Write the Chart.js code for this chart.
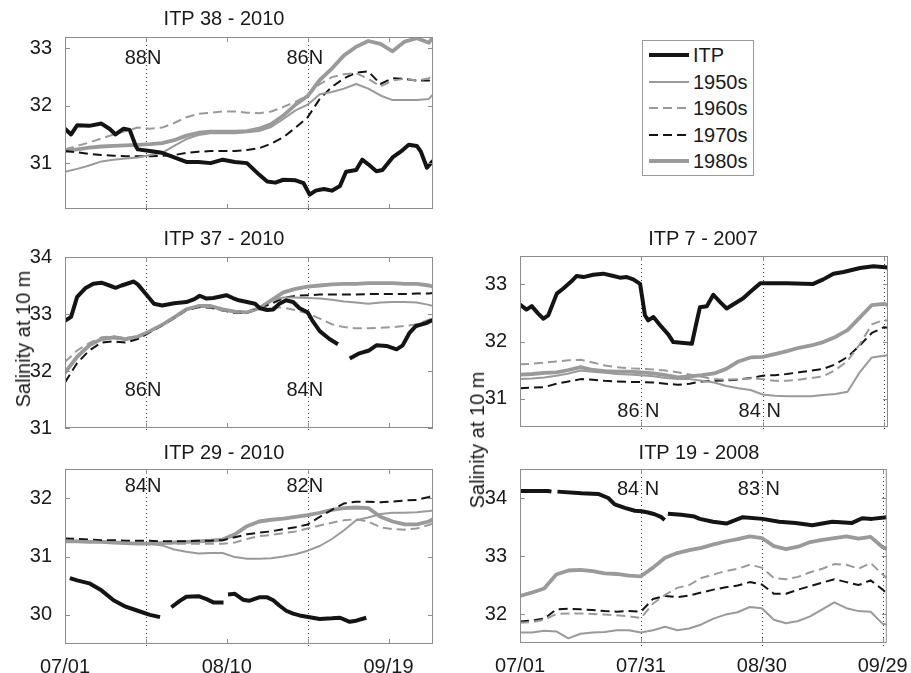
<!DOCTYPE html>
<html>
<head>
<meta charset="utf-8">
<title>Salinity at 10 m</title>
<script src="https://cdn.jsdelivr.net/npm/chart.js@4.4.1/dist/chart.umd.min.js"></script>
<style>
  body { margin: 0; background: #fff; width: 911px; height: 673px; position: relative; overflow: hidden;
         font-family: "Liberation Sans", Arial, sans-serif; color: #1a1a1a; }
  canvas { position: absolute; }
  .ttl { position: absolute; font-size: 20px; line-height: 1; white-space: nowrap; transform: translate(-50%, -50%); }
  .ylab { position: absolute; font-size: 20px; line-height: 1; white-space: nowrap; transform: translate(-50%, -50%) rotate(-90deg); }
  #legend { position: absolute; left: 642px; top: 40px; width: 112px; height: 136px; border: 1px solid #999; box-sizing: border-box; }
  #legend svg { position: absolute; left: 6px; }
  #legend span { position: absolute; left: 50px; font-size: 20px; line-height: 22px; }
</style>
</head>
<body>
<div id="legend"></div>

<script>
// days since 07/01 for the climatology curves
const days = [0,3,6,9,12,15,18,21,24,27,30,33,36,39,42,45,48,51,54,57,60,63,66,69,72,75,78,81,84,87,90,91];

// tick positions / labels
const leftTickDays = [0, 20, 40, 60, 80];
const leftTickLabels = ['07/01', '', '08/10', '', '09/19'];
const rightTickDays = [0, 30, 60, 90];
const rightTickLabels = ['07/01', '07/31', '08/30', '09/29'];

// ---- ITP 38 - 2010 ----
const itp38Track = [[0,31.6],[1.5,31.5],[3,31.66],[6,31.65],[9,31.69],[11,31.6],[12.5,31.5],[14.5,31.6],[16,31.58],[17.5,31.3],
  [18,31.24],[21,31.21],[24,31.18],[27,31.1],[30,31.02],[33,31.02],[36,31.0],[39,31.06],[42,31.02],[45,31.0],[48,30.8],
  [50,30.68],[52,30.66],[54,30.71],[57,30.7],[59,30.65],[60.5,30.45],[62,30.52],[64,30.55],[66,30.52],[68,30.6],[69.5,30.85],
  [72,30.88],[73.5,31.06],[75,30.98],[77,30.86],[78.5,30.88],[81,31.1],[83,31.2],[85,31.32],[87,31.3],[88,31.2],[89.5,30.92],[91,31.04]];
const itp38_1950s = [30.85,30.9,30.96,31.03,31.06,31.08,31.1,31.14,31.18,31.3,31.42,31.49,31.52,31.52,31.52,31.54,31.56,31.63,31.77,31.92,32.02,32.2,32.24,32.3,32.38,32.3,32.18,32.1,32.1,32.1,32.12,32.2];
const itp38_1960s = [31.24,31.3,31.36,31.43,31.5,31.56,31.62,31.6,31.62,31.7,31.8,31.86,31.88,31.9,31.9,31.88,31.87,31.9,31.98,32.07,32.18,32.38,32.5,32.55,32.57,32.47,32.34,32.44,32.47,32.44,32.48,32.55];
const itp38_1970s = [31.21,31.19,31.16,31.14,31.13,31.12,31.12,31.12,31.13,31.14,31.18,31.2,31.21,31.21,31.21,31.23,31.26,31.34,31.45,31.62,31.8,32.12,32.33,32.48,32.58,32.6,32.38,32.48,32.47,32.44,32.44,32.5];
const itp38_1980s = [31.21,31.24,31.27,31.29,31.3,31.31,31.32,31.33,31.35,31.4,31.48,31.53,31.55,31.55,31.55,31.56,31.6,31.68,31.83,32.02,32.17,32.45,32.65,32.88,33.03,33.13,33.08,32.95,33.12,33.18,33.1,33.2];

// ---- ITP 37 - 2010 ----
const itp37Track = [[0,32.88],[1.5,32.95],[3,33.3],[5,33.45],[7,33.53],[9,33.55],[11,33.5],[12.5,33.46],[14,33.5],[17,33.57],
  [18,33.52],[20,33.35],[22,33.18],[24,33.15],[27,33.19],[30,33.21],[32,33.26],[33.3,33.32],[35,33.27],[36.7,33.28],[39.9,33.33],
  [41.5,33.28],[43,33.24],[45,33.21],[47,33.18],[48.2,33.1],[50,33.07],[51.5,33.08],[53,33.18],[54.7,33.24],[56.4,33.21],[58,33.1],
  [60,33.03],[61.3,32.87],[63,32.7],[65.4,32.56],[67.5,32.47],[69,null],[70.4,32.22],[72.8,32.31],[75.2,32.36],[77,32.45],[79.5,32.44],
  [82,32.38],[83.5,32.45],[85.2,32.67],[86.8,32.79],[89.3,32.84],[91,32.9]];
const itp37_1950s = [31.95,32.24,32.44,32.55,32.58,32.55,32.59,32.69,32.8,32.93,33.07,33.13,33.13,33.07,33.03,33.02,33.09,33.24,33.29,33.29,33.28,33.27,33.25,33.22,33.2,33.18,33.2,33.21,33.21,33.2,33.16,33.14];
const itp37_1960s = [32.16,32.36,32.49,32.59,32.61,32.58,32.61,32.7,32.81,32.94,33.08,33.13,33.12,33.06,33.03,33.03,33.1,33.12,33.11,33.07,33.01,32.92,32.82,32.77,32.75,32.75,32.76,32.77,32.79,32.82,32.9,32.93];
const itp37_1970s = [31.8,32.14,32.36,32.5,32.52,32.5,32.56,32.68,32.8,32.93,33.07,33.12,33.11,33.06,33.02,33.02,33.1,33.18,33.28,33.32,33.33,33.34,33.34,33.34,33.34,33.35,33.35,33.35,33.35,33.36,33.36,33.37];
const itp37_1980s = [31.97,32.25,32.45,32.56,32.59,32.56,32.6,32.7,32.81,32.94,33.08,33.14,33.14,33.08,33.04,33.03,33.1,33.24,33.38,33.44,33.48,33.5,33.52,33.53,33.53,33.54,33.54,33.54,33.53,33.53,33.5,33.48];

// ---- ITP 29 - 2010 ----
const itp29Track = [[1.2,30.63],[3,30.59],[6,30.54],[9,30.42],[12,30.25],[15,30.14],[18,30.07],[21,30.0],[23.5,29.96],[25,null],
  [26.3,30.13],[28.4,30.24],[30,30.31],[33,30.32],[35,30.27],[36.8,30.21],[39.2,30.21],[39.8,null],
  [40.3,30.35],[42,30.36],[44,30.26],[45.5,30.24],[48,30.3],[50,30.3],[51.5,30.25],[53,30.16],[54.7,30.07],[56.4,30.02],[58,29.99],
  [60.5,29.96],[63,29.93],[66,29.94],[68,29.95],[70.4,29.88],[72,29.9],[74.5,29.95]];
const itp29_1950s = [31.27,31.27,31.26,31.25,31.24,31.23,31.22,31.22,31.19,31.12,31.08,31.05,31.06,31.06,30.99,30.96,30.96,30.97,31.0,31.04,31.1,31.18,31.3,31.45,31.62,31.67,31.73,31.75,31.75,31.76,31.78,31.79];
const itp29_1960s = [31.27,31.26,31.26,31.25,31.24,31.24,31.23,31.23,31.23,31.22,31.22,31.22,31.22,31.22,31.24,31.3,31.35,31.37,31.4,31.43,31.48,31.53,31.58,31.62,31.64,31.6,31.5,31.47,31.46,31.48,31.54,31.57];
const itp29_1970s = [31.31,31.3,31.29,31.28,31.28,31.27,31.27,31.27,31.26,31.26,31.26,31.27,31.27,31.28,31.33,31.38,31.41,31.43,31.47,31.5,31.55,31.68,31.8,31.91,31.94,31.94,31.93,31.94,31.96,31.97,32.02,32.05];
const itp29_1980s = [31.26,31.26,31.25,31.25,31.24,31.23,31.22,31.22,31.23,31.24,31.25,31.26,31.27,31.29,31.38,31.52,31.6,31.63,31.65,31.68,31.71,31.75,31.8,31.83,31.84,31.83,31.68,31.6,31.55,31.55,31.6,31.64];

// ---- ITP 7 - 2007 ----
const itp7Track = [[0,32.65],[1.6,32.56],[2.9,32.62],[4.5,32.49],[5.8,32.4],[7,32.46],[9.1,32.84],[10.7,32.93],[12.8,33.06],[14,33.15],
  [15.7,33.13],[18.1,33.17],[20.6,33.19],[23.1,33.15],[24.7,33.12],[26.4,33.13],[28,33.09],[29.7,33.01],[30.9,32.46],[31.7,32.37],
  [33,32.43],[34.6,32.29],[36.7,32.12],[37.9,31.99],[41.2,31.97],[42.5,31.96],[43.7,32.35],[44.5,32.6],[46.2,32.62],[47.8,32.82],
  [49.5,32.69],[51.1,32.58],[55.2,32.76],[56.9,32.87],[59.4,33.02],[66,33.02],[72.5,33.01],[75,33.09],[77.5,33.19],[80,33.22],
  [84.1,33.29],[87.4,33.32],[91,33.3]];
const itp7_1950s = [31.34,31.35,31.37,31.4,31.44,31.49,31.47,31.45,31.43,31.42,31.41,31.39,31.36,31.34,31.34,31.31,31.28,31.22,31.18,31.15,31.07,31.05,31.04,31.04,31.04,31.06,31.08,31.12,31.46,31.72,31.75,31.76];
const itp7_1960s = [31.6,31.61,31.63,31.65,31.67,31.68,31.63,31.58,31.55,31.53,31.52,31.51,31.49,31.46,31.42,31.38,31.34,31.33,31.34,31.35,31.34,31.31,31.31,31.33,31.36,31.39,31.5,31.66,31.95,32.3,32.38,32.36];
const itp7_1970s = [31.18,31.19,31.2,31.26,31.3,31.34,31.33,31.31,31.3,31.29,31.29,31.28,31.26,31.24,31.26,31.3,31.31,31.32,31.33,31.36,31.4,31.41,31.43,31.46,31.49,31.52,31.6,31.73,31.93,32.15,32.25,32.24];
const itp7_1980s = [31.42,31.43,31.45,31.46,31.5,31.55,31.5,31.48,31.47,31.47,31.46,31.44,31.41,31.37,31.39,31.41,31.44,31.52,31.65,31.72,31.73,31.78,31.83,31.89,31.93,31.99,32.08,32.2,32.42,32.64,32.66,32.64];

// ---- ITP 19 - 2008 ----
const itp19Track = [[0,34.12],[7,34.12],[7.8,34.11],[8.4,null],[9.3,34.11],[15.3,34.08],[19.4,34.07],[21.9,34.0],[23.5,33.89],[26,33.83],
  [28.5,33.78],[30.1,33.77],[31.8,33.75],[33.4,33.72],[35.1,33.67],[35.9,33.62],[36.3,null],[36.7,33.73],[40,33.71],[43.3,33.68],
  [44.6,33.64],[47.9,33.59],[51.2,33.56],[55.3,33.67],[60.2,33.64],[64.3,33.59],[68.4,33.57],[72.5,33.53],[77.5,33.59],[82.4,33.57],
  [84.9,33.65],[87.3,33.64],[91,33.67]];
const itp19_1950s = [31.68,31.68,31.71,31.7,31.58,31.66,31.68,31.69,31.72,31.72,31.68,31.72,31.78,31.72,31.75,31.82,31.92,31.99,32.03,32.12,32.1,31.9,31.84,31.88,31.96,32.08,32.2,32.1,32.05,32.04,31.83,31.82];
const itp19_1960s = [31.85,31.86,31.9,32.0,32.01,32.01,32.0,31.99,31.98,31.96,31.93,32.18,32.33,32.45,32.5,32.62,32.68,32.74,32.78,32.85,32.8,32.62,32.6,32.64,32.72,32.78,32.86,32.85,32.78,32.88,32.68,32.62];
const itp19_1970s = [31.87,31.89,31.92,32.08,32.09,32.08,32.07,32.05,32.04,32.05,32.04,32.26,32.31,32.29,32.32,32.37,32.42,32.46,32.49,32.55,32.51,32.35,32.35,32.42,32.48,32.54,32.6,32.55,32.5,32.58,32.42,32.35];
const itp19_1980s = [32.31,32.37,32.44,32.68,32.75,32.76,32.74,32.7,32.69,32.66,32.65,32.8,32.97,33.05,33.1,33.14,33.2,33.25,33.29,33.34,33.31,33.17,33.12,33.16,33.24,33.28,33.31,33.34,33.3,33.33,33.15,33.12];

// line styles per series
const seriesStyle = {
  'ITP':   { color: '#141414', width: 4,   dash: [] },
  '1950s': { color: '#9a9a9a', width: 2,   dash: [] },
  '1960s': { color: '#9a9a9a', width: 2,   dash: [9, 5] },
  '1970s': { color: '#141414', width: 2,   dash: [9, 5] },
  '1980s': { color: '#9a9a9a', width: 3.8, dash: [] }
};
const legendNames = ['ITP', '1950s', '1960s', '1970s', '1980s'];

// box = plot area [left, top, right, bottom] in page pixels
const panels = [
  { title: 'ITP 38 - 2010', titleAt: [224, 18], box: [65, 32, 433, 212], yRange: [30.2, 33.2], yTicks: [31, 32, 33],
    xTicks: leftTickDays, xLabels: null, marks: [[20, '88N'], [60, '86N']], markY: 32.83,
    track: itp38Track, clim: [itp38_1950s, itp38_1960s, itp38_1970s, itp38_1980s] },
  { title: 'ITP 37 - 2010', titleAt: [224, 238], box: [65, 252, 433, 431], yRange: [31, 34], yTicks: [31, 32, 33, 34],
    xTicks: leftTickDays, xLabels: null, marks: [[20, '86N'], [60, '84N']], markY: 31.66,
    track: itp37Track, clim: [itp37_1950s, itp37_1960s, itp37_1970s, itp37_1980s] },
  { title: 'ITP 29 - 2010', titleAt: [224, 452], box: [65, 464, 433, 644], yRange: [29.5, 32.5], yTicks: [30, 31, 32],
    xTicks: leftTickDays, xLabels: leftTickLabels, marks: [[20, '84N'], [60, '82N']], markY: 32.2,
    track: itp29Track, clim: [itp29_1950s, itp29_1960s, itp29_1970s, itp29_1980s] },
  { title: 'ITP 7 - 2007', titleAt: [703, 238], box: [520, 251, 888, 430], yRange: [30.5, 33.5], yTicks: [31, 32, 33],
    xTicks: rightTickDays, xLabels: null, marks: [[30, '86 N'], [60, '84 N'], [90, '']], markY: 30.77,
    track: itp7Track, clim: [itp7_1950s, itp7_1960s, itp7_1970s, itp7_1980s] },
  { title: 'ITP 19 - 2008', titleAt: [699, 452], box: [520, 464, 888, 643], yRange: [31.5, 34.5], yTicks: [32, 33, 34],
    xTicks: rightTickDays, xLabels: rightTickLabels, marks: [[30, '84 N'], [60, '83 N'], [90, '']], markY: 34.15,
    track: itp19Track, clim: [itp19_1950s, itp19_1960s, itp19_1970s, itp19_1980s] }
];

Chart.defaults.font.family = '"Liberation Sans", Arial, sans-serif';
Chart.defaults.font.size = 20;
Chart.defaults.color = '#1a1a1a';

const FONT = '20px "Liberation Sans", Arial, sans-serif';
const AXIS_GRAY = '#8c8c8c';

// box frame, inward ticks, dotted latitude lines and their labels
const framePlugin = {
  id: 'frame',
  beforeDatasetsDraw(chart, args, opts) {
    const { ctx, chartArea: a, scales: { x } } = chart;
    ctx.save();
    ctx.strokeStyle = '#333';
    ctx.lineWidth = 1;
    ctx.setLineDash([1, 3]);
    opts.marks.forEach(([day]) => {
      const px = Math.round(x.getPixelForValue(day)) + 0.5;
      ctx.beginPath();
      ctx.moveTo(px, a.top);
      ctx.lineTo(px, a.bottom + 4);
      ctx.stroke();
    });
    ctx.restore();
  },
  afterDatasetsDraw(chart, args, opts) {
    const { ctx, chartArea: a, scales: { x, y } } = chart;
    ctx.save();
    ctx.strokeStyle = AXIS_GRAY;
    ctx.lineWidth = 1;
    ctx.strokeRect(a.left + 0.5, a.top + 0.5, a.width - 1, a.height - 1);
    ctx.beginPath();
    x.ticks.forEach(t => {
      const px = Math.round(x.getPixelForValue(t.value)) + 0.5;
      ctx.moveTo(px, a.bottom); ctx.lineTo(px, a.bottom - 5);
      ctx.moveTo(px, a.top); ctx.lineTo(px, a.top + 5);
    });
    y.ticks.forEach(t => {
      const py = Math.round(y.getPixelForValue(t.value)) + 0.5;
      ctx.moveTo(a.left, py); ctx.lineTo(a.left + 5, py);
      ctx.moveTo(a.right, py); ctx.lineTo(a.right - 5, py);
    });
    ctx.stroke();

    ctx.font = FONT;
    ctx.fillStyle = '#1a1a1a';
    ctx.textBaseline = 'middle';
    ctx.textAlign = 'left';
    const py = y.getPixelForValue(opts.markY);
    opts.marks.forEach(([day, label]) => {
      if (!label) return;
      const num = label.match(/^\d+/)[0];
      let off = ctx.measureText(num).width;
      if (label[num.length] === ' ') off += ctx.measureText(' ').width / 2;
      ctx.fillText(label, x.getPixelForValue(day) - off + 1, py);
    });
    ctx.restore();
  }
};

function lineDataset(name, points) {
  const s = seriesStyle[name];
  return {
    label: name,
    data: points,
    borderColor: s.color,
    borderWidth: s.width,
    borderDash: s.dash,
    borderJoinStyle: 'round',
    pointRadius: 0,
    tension: 0,
    spanGaps: false
  };
}

panels.forEach(p => {
  const [x0, y0, x1, y1] = p.box;
  const padTop = 12;
  const padRight = x1 > 600 ? 23 : 8;
  const axisW = 60;
  const axisH = p.xLabels ? 36 : 14;

  const canvas = document.createElement('canvas');
  canvas.width = (x1 - x0) + axisW + padRight;
  canvas.height = (y1 - y0) + padTop + axisH;
  canvas.style.left = (x0 - axisW) + 'px';
  canvas.style.top = (y0 - padTop) + 'px';
  document.body.appendChild(canvas);

  const title = document.createElement('div');
  title.className = 'ttl';
  title.textContent = p.title;
  title.style.left = p.titleAt[0] + 'px';
  title.style.top = p.titleAt[1] + 'px';
  document.body.appendChild(title);

  const datasets = [lineDataset('ITP', p.track.map(([d, v]) => ({ x: d, y: v })))];
  ['1950s', '1960s', '1970s', '1980s'].forEach((name, k) => {
    datasets.push(lineDataset(name, days.map((d, i) => ({ x: d, y: p.clim[k][i] }))));
  });

  new Chart(canvas, {
    type: 'line',
    data: { datasets },
    options: {
      responsive: false,
      animation: false,
      layout: { padding: { left: 0, top: padTop, right: padRight, bottom: 0 } },
      plugins: {
        legend: { display: false },
        tooltip: { enabled: false },
        frame: { marks: p.marks, markY: p.markY }
      },
      scales: {
        x: {
          type: 'linear', min: 0, max: 91,
          grid: { display: false }, border: { display: false },
          afterBuildTicks: s => { s.ticks = p.xTicks.map(v => ({ value: v })); },
          afterFit: s => { s.height = axisH; },
          ticks: {
            display: !!p.xLabels, padding: 3, maxRotation: 0, autoSkip: false,
            callback: (v, i) => p.xLabels ? p.xLabels[i] : ''
          }
        },
        y: {
          min: p.yRange[0], max: p.yRange[1],
          grid: { display: false }, border: { display: false },
          afterBuildTicks: s => { s.ticks = p.yTicks.map(v => ({ value: v })); },
          afterFit: s => { s.width = axisW; },
          ticks: { padding: 5, callback: v => String(v) }
        }
      }
    },
    plugins: [framePlugin]
  });
});

// y axis titles
[[23, 339], [477, 440]].forEach(([cx, cy]) => {
  const lab = document.createElement('div');
  lab.className = 'ylab';
  lab.textContent = 'Salinity at 10 m';
  lab.style.left = cx + 'px';
  lab.style.top = cy + 'px';
  document.body.appendChild(lab);
});

// legend box
const legend = document.getElementById('legend');
legendNames.forEach((name, i) => {
  const s = seriesStyle[name];
  const yc = 14 + i * 26.5;
  const svg = document.createElementNS('http://www.w3.org/2000/svg', 'svg');
  svg.setAttribute('width', '40');
  svg.setAttribute('height', '8');
  svg.style.top = (yc - 4) + 'px';
  const ln = document.createElementNS('http://www.w3.org/2000/svg', 'line');
  ln.setAttribute('x1', '0'); ln.setAttribute('y1', '4');
  ln.setAttribute('x2', '40'); ln.setAttribute('y2', '4');
  ln.setAttribute('stroke', s.color);
  ln.setAttribute('stroke-width', String(s.width));
  if (s.dash.length) ln.setAttribute('stroke-dasharray', s.dash.join(' '));
  svg.appendChild(ln);
  legend.appendChild(svg);
  const span = document.createElement('span');
  span.textContent = name;
  span.style.top = (yc - 11) + 'px';
  legend.appendChild(span);
});
</script>
</body>
</html>
